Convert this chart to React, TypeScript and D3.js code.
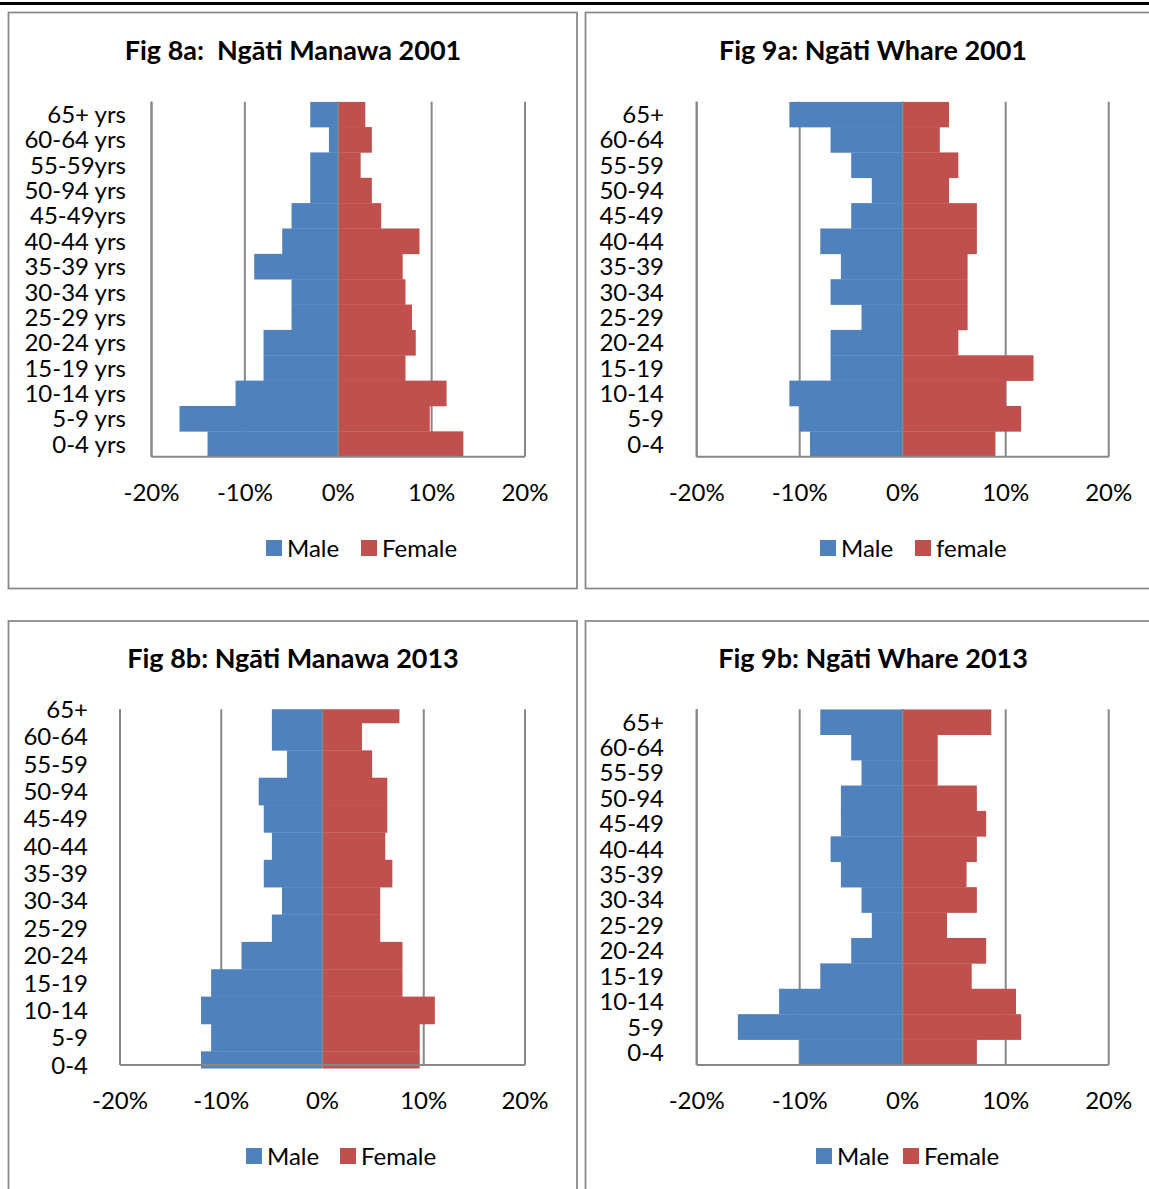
import React from "react";
import * as d3 from "d3";

const catsA = ["65+ yrs", "60-64 yrs", "55-59yrs", "50-94 yrs", "45-49yrs", "40-44 yrs", "35-39 yrs", "30-34 yrs", "25-29 yrs", "20-24 yrs", "15-19 yrs", "10-14 yrs", "5-9 yrs", "0-4 yrs"];
const catsB = ["65+", "60-64", "55-59", "50-94", "45-49", "40-44", "35-39", "30-34", "25-29", "20-24", "15-19", "10-14", "5-9", "0-4"];

const male8a = [-3, -1, -3, -3, -5, -6, -9, -5, -5, -8, -8, -11, -17, -14];
const female8a = [2.9, 3.6, 2.4, 3.6, 4.6, 8.7, 6.9, 7.2, 7.9, 8.3, 7.2, 11.6, 9.8, 13.4];
const male9a = [-11, -7, -5, -3, -5, -8, -6, -7, -4, -7, -7, -11, -10, -9];
const female9a = [4.5, 3.6, 5.4, 4.5, 7.2, 7.2, 6.3, 6.3, 6.3, 5.4, 12.7, 10, 11.5, 9];
const male8b = [-5, -5, -3.5, -6.3, -5.8, -5, -5.8, -4, -5, -8, -11, -12, -11, -12];
const female8b = [7.6, 3.9, 4.9, 6.4, 6.4, 6.2, 6.9, 5.7, 5.7, 7.9, 7.9, 11.1, 9.6, 9.6];
const male9b = [-8, -5, -4, -6, -6, -7, -6, -4, -3, -5, -8, -12, -16, -10];
const female9b = [8.6, 3.4, 3.4, 7.2, 8.1, 7.2, 6.2, 7.2, 4.3, 8.1, 6.7, 11, 11.5, 7.2];

const xTicks = [-20, -10, 0, 10, 20];

const BLUE = "#4F81BD";
const RED = "#C0504D";
const GRID = "#878787";
const FONT = "Lato, 'Open Sans', sans-serif";

type Cfg = {
  id: string;
  title: string;
  titleX: number;
  titleY: number;
  cats: string[];
  male: number[];
  female: number[];
  xl: number;
  xr: number;
  top: number;
  bottom: number;
  labelX: number;
  onTicks: boolean;
  tickY: number;
  legendY: number;
  leg1: number;
  leg2: number;
  legLabels: [string, string];
  box: [number, number, number, number];
};

const charts: Cfg[] = [
  {
    id: "c8a", title: "Fig 8a:  Ngāti Manawa 2001", titleX: 293, titleY: 60,
    cats: catsA, male: male8a, female: female8a,
    xl: 151.5, xr: 525, top: 101.7, bottom: 456.7, labelX: 126, onTicks: false,
    tickY: 492, legendY: 548, leg1: 266, leg2: 361, legLabels: ["Male", "Female"],
    box: [8.5, 12.5, 568.5, 576],
  },
  {
    id: "c9a", title: "Fig 9a: Ngāti Whare 2001", titleX: 873, titleY: 60,
    cats: catsB, male: male9a, female: female9a,
    xl: 696.7, xr: 1108.7, top: 101.7, bottom: 456.7, labelX: 664, onTicks: false,
    tickY: 492, legendY: 548, leg1: 820, leg2: 915, legLabels: ["Male", "female"],
    box: [585.5, 12.5, 580, 576],
  },
  {
    id: "c8b", title: "Fig 8b: Ngāti Manawa 2013", titleX: 293, titleY: 668,
    cats: catsB, male: male8b, female: female8b,
    xl: 120, xr: 525, top: 709.3, bottom: 1065, labelX: 88, onTicks: true,
    tickY: 1100, legendY: 1156, leg1: 246, leg2: 340, legLabels: ["Male", "Female"],
    box: [8.5, 621, 568.5, 600],
  },
  {
    id: "c9b", title: "Fig 9b: Ngāti Whare 2013", titleX: 873, titleY: 668,
    cats: catsB, male: male9b, female: female9b,
    xl: 696.7, xr: 1108.7, top: 709.3, bottom: 1065, labelX: 664, onTicks: false,
    tickY: 1100, legendY: 1156, leg1: 816, leg2: 903, legLabels: ["Male", "Female"],
    box: [585.5, 621, 580, 600],
  },
];

function Pyramid({ c }: { c: Cfg }) {
  const x = d3.scaleLinear().domain([-20, 20]).range([c.xl, c.xr]);
  let yPos: (i: number) => number;
  let step: number;
  if (c.onTicks) {
    const p = d3.scalePoint<string>().domain(c.cats).range([c.top, c.bottom]);
    step = p.step();
    yPos = (i) => (p(c.cats[i]) as number);
  } else {
    const b = d3.scaleBand<string>().domain(c.cats).range([c.top, c.bottom]).padding(0);
    step = b.bandwidth();
    yPos = (i) => (b(c.cats[i]) as number) + step / 2;
  }
  const clipId = `clip-${c.id}`;
  const fs = 24;
  return (
    <g>
      <rect x={c.box[0]} y={c.box[1]} width={c.box[2]} height={c.box[3]} fill="#fff" stroke="#8a8a8a" strokeWidth={1.8} />
      <text x={c.titleX} y={c.titleY} textAnchor="middle" fontFamily={FONT} fontWeight={700} fontSize={27} fill="#000" style={{ whiteSpace: "pre" }}>
        {c.title}
      </text>
      <defs>
        <clipPath id={clipId}>
          <rect x={c.xl - 2} y={c.top} width={c.xr - c.xl + 4} height={c.bottom - c.top + 3.5} />
        </clipPath>
      </defs>
      {xTicks.map((t) => (
        <line key={t} x1={x(t)} x2={x(t)} y1={c.top} y2={c.bottom} stroke={GRID} strokeWidth={2} />
      ))}
      <g clipPath={`url(#${clipId})`}>
        {c.male.map((v, i) => (
          <rect key={"m" + i} x={x(v)} y={yPos(i) - step / 2} width={x(0) - x(v)} height={step + 0.3} fill={BLUE} />
        ))}
        {c.female.map((v, i) => (
          <rect key={"f" + i} x={x(0)} y={yPos(i) - step / 2} width={x(v) - x(0)} height={step + 0.3} fill={RED} />
        ))}
      </g>
      <line x1={x(0)} x2={x(0)} y1={c.top} y2={c.bottom} stroke={GRID} strokeWidth={1.5} />
      <line x1={c.xl} x2={c.xl} y1={c.top} y2={c.bottom} stroke={GRID} strokeWidth={2} />
      <line x1={c.xl} x2={c.xr} y1={c.bottom} y2={c.bottom} stroke={GRID} strokeWidth={2} />
      {c.cats.map((cat, i) => (
        <text key={cat} x={c.labelX} y={yPos(i)} dy="0.36em" textAnchor="end" fontFamily={FONT} fontSize={fs} fill="#000">
          {cat}
        </text>
      ))}
      {xTicks.map((t) => (
        <text key={"t" + t} x={x(t)} y={c.tickY} dy="0.36em" textAnchor="middle" fontFamily={FONT} fontSize={fs} fill="#000">
          {`${t}%`}
        </text>
      ))}
      <rect x={c.leg1} y={c.legendY - 8} width={16} height={16} fill={BLUE} />
      <text x={c.leg1 + 21} y={c.legendY} dy="0.36em" fontFamily={FONT} fontSize={fs} fill="#000">
        {c.legLabels[0]}
      </text>
      <rect x={c.leg2} y={c.legendY - 8} width={16} height={16} fill={RED} />
      <text x={c.leg2 + 21} y={c.legendY} dy="0.36em" fontFamily={FONT} fontSize={fs} fill="#000">
        {c.legLabels[1]}
      </text>
    </g>
  );
}

export default function App() {
  return (
    <svg width={1149} height={1189} style={{ position: "absolute", left: 0, top: 0, background: "#fff" }}>
      <rect x={0} y={0} width={1149} height={1189} fill="#fff" />
      <line x1={0} x2={1149} y1={3.5} y2={3.5} stroke="#000" strokeWidth={3} />
      {charts.map((c) => (
        <Pyramid key={c.id} c={c} />
      ))}
    </svg>
  );
}
